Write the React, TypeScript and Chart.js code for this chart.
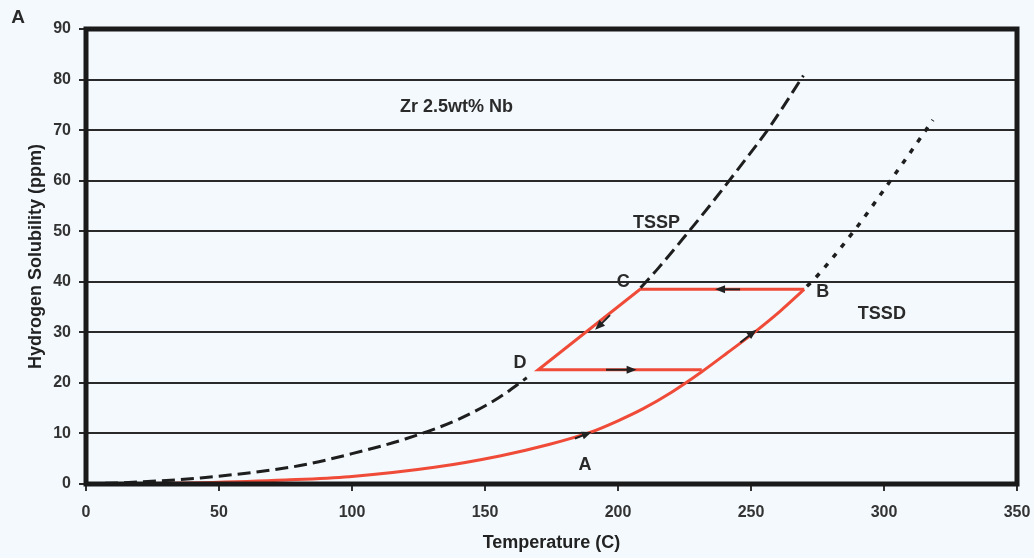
import React, { useEffect, useRef } from "react";
import { Chart, registerables } from "chart.js";
Chart.register(...registerables);

const FONT = "'Liberation Sans', Arial, sans-serif";

// TSSP (precipitation) curve – dashed; null leaves the part hidden under the red C–D path
const tsspT = [0, 20, 43, 80, 100, 120, 140, 155, 165.7, 188, 208.5, 215, 225, 235, 245, 257, 269.7];
const tsspH = [0, 0.4, 1.2, 3.6, 6.0, 8.9, 12.8, 17.0, 21.0, null, 38.8, 42.6, 48.9, 55.4, 62.2, 70.6, 80.8];

// TSSD (dissolution) curve – dotted extension above B
const tssdT = [271, 273.4, 288.5, 303.5, 318.4];
const tssdH = [39.1, 40.3, 49.9, 60.8, 72.0];

// Heating path along TSSD from origin to B
const heatT = [0, 25, 43, 75, 99, 131, 156, 174, 190, 200, 209.5, 220, 231.5, 241, 252, 261, 270];
const heatH = [0, 0.08, 0.26, 0.8, 1.45, 3.3, 5.6, 7.8, 10.3, 12.5, 14.9, 18.1, 22.2, 25.9, 30.3, 34.2, 38.5];

// Hysteresis loop B -> C -> D -> back to TSSD
const loopT = [270, 208.3, 170, 231.5];
const loopH = [38.5, 38.5, 22.6, 22.6];

// Direction arrows (tail -> tip), in data units
const arrowTailT = [183.8, 246, 245.9, 197, 195.5];
const arrowTailH = [9.0, 28.0, 38.5, 33.4, 22.6];
const arrowTipT = [190.1, 252.1, 236.5, 191.4, 207];
const arrowTipH = [10.3, 30.5, 38.5, 30.5, 22.6];

// Text annotations
const labelText = ["A", "B", "C", "D", "TSSP", "TSSD", "Zr 2.5wt% Nb"];
const labelT = [187.6, 277, 202, 163.2, 214.5, 299.2, 139.3];
const labelH = [3.8, 38, 40, 23.9, 51.7, 33.6, 74.5];

const xTicks = [0, 50, 100, 150, 200, 250, 300, 350];
const yTicks = [0, 10, 20, 30, 40, 50, 60, 70, 80, 90];

const pts = (xs: number[], ys: (number | null)[]) => xs.map((x, i) => ({ x, y: ys[i] }));

export default function App() {
  const ref = useRef<HTMLCanvasElement | null>(null);
  useEffect(() => {
    document.body.style.margin = "0";
    const canvas = ref.current!;
    const bgPlugin = {
      id: "bg",
      beforeDraw(chart: any) {
        const ctx = chart.ctx;
        ctx.save();
        ctx.fillStyle = "#f3f9fc";
        ctx.fillRect(0, 0, chart.width, chart.height);
        ctx.restore();
      },
    };
    const overlayPlugin = {
      id: "overlay",
      afterDatasetsDraw(chart: any) {
        const ctx = chart.ctx;
        const xs = chart.scales.x;
        const ys = chart.scales.y;
        const ca = chart.chartArea;
        ctx.save();
        // arrows
        for (let i = 0; i < arrowTipT.length; i++) {
          const x0 = xs.getPixelForValue(arrowTailT[i]);
          const y0 = ys.getPixelForValue(arrowTailH[i]);
          const x1 = xs.getPixelForValue(arrowTipT[i]);
          const y1 = ys.getPixelForValue(arrowTipH[i]);
          const a = Math.atan2(y1 - y0, x1 - x0);
          ctx.strokeStyle = "#222";
          ctx.lineWidth = 2;
          ctx.beginPath();
          ctx.moveTo(x0, y0);
          ctx.lineTo(x1 - 6 * Math.cos(a), y1 - 6 * Math.sin(a));
          ctx.stroke();
          ctx.fillStyle = "#222";
          ctx.beginPath();
          ctx.moveTo(x1, y1);
          ctx.lineTo(x1 - 10 * Math.cos(a) + 4 * Math.sin(a), y1 - 10 * Math.sin(a) - 4 * Math.cos(a));
          ctx.lineTo(x1 - 10 * Math.cos(a) - 4 * Math.sin(a), y1 - 10 * Math.sin(a) + 4 * Math.cos(a));
          ctx.closePath();
          ctx.fill();
        }
        // labels
        ctx.fillStyle = "#2a2a2a";
        ctx.textAlign = "center";
        ctx.textBaseline = "middle";
        for (let i = 0; i < labelText.length; i++) {
          ctx.font = `bold 18px ${FONT}`;
          ctx.fillText(labelText[i], xs.getPixelForValue(labelT[i]), ys.getPixelForValue(labelH[i]));
        }
        // frame
        ctx.strokeStyle = "#1a1a1a";
        ctx.lineWidth = 5;
        ctx.strokeRect(ca.left, ca.top, ca.right - ca.left, ca.bottom - ca.top);
        // panel letter
        ctx.font = `bold 19px ${FONT}`;
        ctx.fillStyle = "#2a2a2a";
        ctx.fillText("A", 18, 18);
        ctx.restore();
      },
    };
    const chart = new Chart(canvas, {
      type: "scatter",
      data: {
        datasets: [
          {
            label: "TSSP",
            data: pts(tsspT, tsspH) as any,
            showLine: true,
            spanGaps: false,
            borderColor: "#1e1e1e",
            borderWidth: 3,
            borderDash: [13, 6],
            pointRadius: 0,
            cubicInterpolationMode: "monotone",
          },
          {
            label: "TSSD",
            data: pts(tssdT, tssdH) as any,
            showLine: true,
            borderColor: "#1e1e1e",
            borderWidth: 3.5,
            borderDash: [5, 8],
            pointRadius: 0,
            cubicInterpolationMode: "monotone",
          },
          {
            label: "Heating",
            data: pts(heatT, heatH) as any,
            showLine: true,
            borderColor: "#f04b38",
            borderWidth: 3,
            pointRadius: 0,
            cubicInterpolationMode: "monotone",
          },
          {
            label: "Loop",
            data: pts(loopT, loopH) as any,
            showLine: true,
            borderColor: "#f04b38",
            borderWidth: 3,
            pointRadius: 0,
            tension: 0,
          },
        ],
      },
      options: {
        animation: false,
        responsive: false,
        devicePixelRatio: 1,
        layout: { padding: { left: 0, top: 29, right: 17, bottom: 0 } },
        plugins: { legend: { display: false }, tooltip: { enabled: false } },
        scales: {
          x: {
            type: "linear",
            min: 0,
            max: 350,
            afterBuildTicks: (s: any) => {
              s.ticks = xTicks.map((v) => ({ value: v }));
            },
            afterFit: (s: any) => {
              s.height = 74;
              s.paddingLeft = 0;
              s.paddingRight = 0;
            },
            ticks: { color: "#333", font: { size: 16, weight: "bold", family: FONT }, padding: 12, maxRotation: 0 },
            grid: { drawOnChartArea: false, drawTicks: true, tickLength: 7, color: "#333", lineWidth: 2 },
            border: { display: false },
            title: {
              display: true,
              text: "Temperature (C)",
              color: "#222",
              font: { size: 18, weight: "bold", family: FONT },
              padding: { top: 4, bottom: 4 },
            },
          },
          y: {
            type: "linear",
            min: 0,
            max: 90,
            afterBuildTicks: (s: any) => {
              s.ticks = yTicks.map((v) => ({ value: v }));
            },
            afterFit: (s: any) => {
              s.width = 86;
              s.paddingTop = 0;
              s.paddingBottom = 0;
            },
            ticks: { color: "#333", font: { size: 16, weight: "bold", family: FONT }, padding: 8 },
            grid: { color: "#2a2a2a", lineWidth: 2, tickLength: 7, drawTicks: true },
            border: { display: false },
            title: {
              display: true,
              text: "Hydrogen Solubility (ppm)",
              color: "#222",
              font: { size: 18, weight: "bold", family: FONT },
              padding: { top: 25, bottom: 0 },
            },
          },
        },
      } as any,
      plugins: [bgPlugin, overlayPlugin],
    });
    return () => chart.destroy();
  }, []);
  return (
    <div style={{ width: 1034, height: 558 }}>
      <canvas ref={ref} width={1034} height={558} style={{ display: "block" }} />
    </div>
  );
}
